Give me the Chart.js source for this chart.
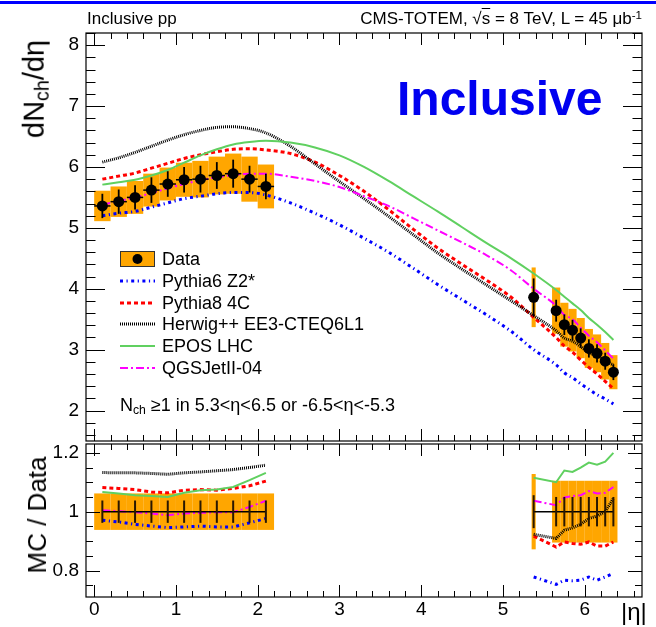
<!DOCTYPE html>
<html><head><meta charset="utf-8">
<script src="https://cdn.jsdelivr.net/npm/chart.js@4/dist/chart.umd.min.js"></script>
<style>
html,body{margin:0;padding:0;background:#fff;}
#wrap{position:relative;width:656px;height:627px;overflow:hidden;font-family:"Liberation Sans",Arial,Helvetica,sans-serif;color:#000;}
canvas{position:absolute;left:0;top:0;}
.t{position:absolute;white-space:nowrap;line-height:1;}
.rot{position:absolute;white-space:nowrap;line-height:1;transform:translate(-50%,-50%) rotate(-90deg);}
.leg{position:absolute;left:120px;white-space:nowrap;line-height:1;font-size:18px;display:flex;align-items:center;}
sub{font-size:0.68em;vertical-align:-0.25em;}
sup{font-size:0.68em;vertical-align:0.45em;}
</style></head><body>
<div id="wrap">
<div style="position:absolute;left:0;top:1px;width:656px;height:3px;background:#0000ff"></div>
<canvas id="cTop" width="656" height="627"></canvas>
<canvas id="cBot" width="656" height="627"></canvas>
<div class="t" style="left:87px;top:10px;font-size:17px">Inclusive pp</div>
<div class="t" style="right:14px;top:10px;font-size:17px">CMS-TOTEM, √<span style="text-decoration:overline">s</span> = 8 TeV, L = 45 μb<sup>-1</sup></div>
<div class="t" style="left:397px;top:75px;font-size:48px;font-weight:bold;color:#0000f0">Inclusive</div>
<div class="rot" style="left:36px;top:89px;font-size:29px">dN<sub>ch</sub>/dη</div>
<div class="rot" style="left:37px;top:515px;font-size:26px">MC / Data</div>
<div class="t" style="left:621px;top:600px;font-size:24px">|η|</div>
<div id="legend"></div>
<div class="t" style="left:120px;top:396px;font-size:18px">N<sub>ch</sub> ≥1 in 5.3&lt;η&lt;6.5 or -6.5&lt;η&lt;-5.3</div>
</div>
<script>
// ---------------- data ----------------
const etaLeft  = [0.1,0.3,0.5,0.7,0.9,1.1,1.3,1.5,1.7,1.9,2.1];
const binLeft  = [0.2,0.2,0.2,0.2,0.2,0.2,0.2,0.2,0.2,0.2,0.2];
const dataLeft = [5.36,5.43,5.50,5.62,5.72,5.79,5.80,5.86,5.89,5.80,5.68];
const sysLeft  = [0.25,0.25,0.27,0.27,0.27,0.28,0.30,0.31,0.33,0.37,0.36];
const errLeft  = [0.20,0.20,0.20,0.21,0.21,0.21,0.22,0.22,0.23,0.22,0.21];

const etaRight  = [5.375,5.65,5.75,5.85,5.95,6.05,6.15,6.25,6.35];
const binRight  = [0.05,0.1,0.1,0.1,0.1,0.1,0.1,0.1,0.1];
const dataRight = [3.86,3.64,3.41,3.32,3.19,3.02,2.94,2.81,2.63];
const sysRight  = [0.49,0.38,0.36,0.35,0.33,0.32,0.31,0.30,0.28];
const errRight  = [0.31,0.18,0.17,0.17,0.16,0.15,0.15,0.14,0.13];

// ratio panel: relative uncertainties of the data
const ratioSysLeft  = [0.062,0.062,0.062,0.062,0.062,0.062,0.062,0.062,0.062,0.062,0.062];
const ratioErrLeft  = [0.038,0.038,0.038,0.038,0.038,0.038,0.038,0.038,0.038,0.038,0.038];
const ratioSysRight = [0.128,0.105,0.105,0.105,0.105,0.105,0.105,0.105,0.105];
const ratioErrRight = [0.056,0.05,0.05,0.05,0.05,0.05,0.05,0.05,0.05];

// MC predictions (upper panel)
const etaMC = [0.1,0.3,0.5,0.7,0.9,1.1,1.3,1.5,1.7,1.9,2.1,2.4,2.7,3.0,3.3,3.6,3.9,4.2,4.5,4.8,5.1,5.375,5.65,5.75,5.85,5.95,6.05,6.15,6.25,6.35];
const pythia6 = [5.20,5.24,5.27,5.34,5.41,5.48,5.52,5.56,5.58,5.58,5.54,5.41,5.24,5.05,4.83,4.60,4.34,4.07,3.82,3.57,3.30,3.00,2.75,2.62,2.54,2.44,2.35,2.26,2.19,2.11];
const pythia8 = [5.80,5.85,5.90,5.98,6.06,6.14,6.20,6.25,6.29,6.30,6.28,6.22,6.08,5.86,5.60,5.30,4.98,4.67,4.40,4.14,3.86,3.53,3.20,3.06,2.96,2.83,2.71,2.60,2.48,2.36];
const herwig  = [6.08,6.15,6.24,6.34,6.44,6.53,6.60,6.65,6.66,6.63,6.56,6.34,6.05,5.76,5.48,5.19,4.89,4.59,4.32,4.06,3.80,3.56,3.31,3.19,3.14,3.05,2.95,2.90,2.81,2.75];
const epos    = [5.71,5.75,5.79,5.86,5.95,6.07,6.19,6.29,6.37,6.41,6.43,6.40,6.32,6.19,6.00,5.77,5.52,5.27,5.01,4.75,4.50,4.25,3.98,3.87,3.76,3.65,3.52,3.41,3.29,3.16];
const qgsjet  = [5.38,5.44,5.50,5.57,5.65,5.72,5.78,5.83,5.87,5.89,5.89,5.84,5.77,5.67,5.52,5.36,5.16,4.96,4.76,4.55,4.30,4.00,3.72,3.57,3.50,3.36,3.23,3.12,2.99,2.85];

// MC / Data ratios (lower panel)
const rPythia6Left = [0.971,0.965,0.957,0.951,0.946,0.948,0.951,0.948,0.948,0.962,0.977];
const rPythia8Left = [1.082,1.079,1.075,1.067,1.064,1.073,1.075,1.073,1.079,1.088,1.104];
const rHerwigLeft  = [1.133,1.132,1.132,1.130,1.127,1.132,1.135,1.139,1.143,1.150,1.158];
const rEposLeft    = [1.067,1.062,1.056,1.053,1.050,1.064,1.073,1.075,1.084,1.107,1.132];
const rQgsjetLeft  = [1.005,1.002,0.998,0.994,0.988,0.994,0.996,0.998,0.998,1.016,1.037];
const rPythia6Right = [0.778,0.753,0.767,0.765,0.767,0.778,0.767,0.778,0.790];
const rPythia8Right = [0.917,0.880,0.897,0.892,0.889,0.897,0.883,0.883,0.897];
const rHerwigRight  = [0.923,0.909,0.937,0.945,0.957,0.977,0.985,1.000,1.045];
const rEposRight    = [1.115,1.100,1.140,1.135,1.150,1.167,1.160,1.170,1.200];
const rQgsjetRight  = [1.037,1.022,1.048,1.053,1.056,1.070,1.062,1.064,1.084];

const yTopTicks = {min:1.5, max:8.2, step:1};
const yBotTicks = {min:0.71, max:1.23, step:0.2};
const xTicks = {min:-0.1, max:6.7, step:1};

// ---------------- styles ----------------
const FONT = '"Liberation Sans", Arial, Helvetica, sans-serif';
const ORANGE = 'rgb(255,166,0)';
const styles = {
  pythia6: {label:'Pythia6 Z2*', color:'#0000ff', width:3, dash:[3,3.5,1.2,3.5]},
  pythia8: {label:'Pythia8 4C', color:'#ff0000', width:3, dash:[4,3]},
  herwig:  {label:'Herwig++ EE3-CTEQ6L1', color:'#000000', width:3, dash:[1,1]},
  epos:    {label:'EPOS LHC', color:'rgb(96,208,96)', width:2, dash:[]},
  qgsjet:  {label:'QGSJetII-04', color:'#ff00ff', width:2, dash:[8,3,2,3]}
};

// ---------------- legend (HTML) ----------------
(function(){
  const lg = document.getElementById('legend');
  const entries = ['data','pythia6','pythia8','herwig','epos','qgsjet'];
  entries.forEach((e,i)=>{
    const cy = 259 + i*21.8;
    const d = document.createElement('div');
    d.className = 'leg';
    d.style.top = (cy-9)+'px';
    d.style.height = '18px';
    let svg;
    if (e==='data') {
      svg = '<svg width="35" height="16" style="margin-right:7px"><rect x="0.5" y="0.5" width="34" height="15" fill="'+ORANGE+'" stroke="#333" stroke-width="1"/><circle cx="17.5" cy="8" r="5" fill="#000"/></svg>';
      d.innerHTML = svg + '<span>Data</span>';
    } else {
      const s = styles[e];
      svg = '<svg width="35" height="16" style="margin-right:7px"><line x1="0" y1="8" x2="35" y2="8" stroke="'+s.color+'" stroke-width="'+s.width+'" stroke-dasharray="'+(s.dash.length?s.dash.join(','):'none')+'"/></svg>';
      d.innerHTML = svg + '<span>'+s.label+'</span>';
    }
    lg.appendChild(d);
  });
})();

// ---------------- helpers ----------------
function pts(xs, ys){ return xs.map((x,i)=>({x:x, y:ys[i]})); }
function gapJoin(a, b){ return a.concat([{x:3.7, y:null}], b); }
function lineDS(key, data, smooth){
  const s = styles[key];
  return {label:s.label, data:data, borderColor:s.color, borderWidth:s.width, borderDash:s.dash,
          pointRadius:0, fill:false, tension: smooth?0.4:0, cubicInterpolationMode: smooth?'monotone':'default',
          spanGaps:false, borderCapStyle:'butt'};
}

function rootPlugin(cfg){
  return {
    id:'root'+cfg.name,
    beforeDatasetsDraw(chart){
      const {ctx, chartArea:a, scales:{x,y}} = chart;
      ctx.save();
      ctx.beginPath(); ctx.rect(a.left,a.top,a.right-a.left,a.bottom-a.top); ctx.clip();
      ctx.fillStyle = ORANGE;
      cfg.groups.forEach(g=>{
        g.eta.forEach((e,i)=>{
          const x0 = x.getPixelForValue(e-g.bin[i]/2), x1 = x.getPixelForValue(e+g.bin[i]/2);
          const y0 = y.getPixelForValue(g.val[i]+g.sys[i]), y1 = y.getPixelForValue(g.val[i]-g.sys[i]);
          ctx.fillRect(x0, y0, x1-x0, y1-y0);
        });
      });
      ctx.restore();
    },
    afterDatasetsDraw(chart){
      const {ctx, chartArea:a, scales:{x,y}} = chart;
      ctx.save();
      ctx.strokeStyle = cfg.barColor;
      cfg.groups.forEach(g=>{
        g.eta.forEach((e,i)=>{
          const px = x.getPixelForValue(e);
          ctx.lineWidth = cfg.barWidth;
          ctx.beginPath();
          ctx.moveTo(px, y.getPixelForValue(g.val[i]+g.err[i]));
          ctx.lineTo(px, y.getPixelForValue(g.val[i]-g.err[i]));
          ctx.stroke();
          if (cfg.xbars){
            const py = y.getPixelForValue(g.val[i]);
            ctx.lineWidth = 1.5;
            ctx.beginPath();
            ctx.moveTo(x.getPixelForValue(e-g.bin[i]/2), py);
            ctx.lineTo(x.getPixelForValue(e+g.bin[i]/2), py);
            ctx.stroke();
          }
        });
      });
      ctx.strokeStyle = '#000'; ctx.lineWidth = 1.2;
      ctx.strokeRect(a.left, a.top, a.right-a.left, a.bottom-a.top);
      ctx.lineWidth = 1;
      const tick = (scale, min, max, major, minor, lmaj, lmin, horiz) => {
        const n0 = Math.ceil(min/minor - 1e-6), n1 = Math.floor(max/minor + 1e-6);
        for (let k=n0; k<=n1; k++){
          const v = k*minor;
          const isMaj = Math.abs(v/major - Math.round(v/major)) < 1e-6;
          const L = isMaj ? lmaj : lmin;
          const p = Math.round(scale.getPixelForValue(v)) + 0.5;
          ctx.beginPath();
          if (horiz){
            ctx.moveTo(p, a.bottom); ctx.lineTo(p, a.bottom-L);
            ctx.moveTo(p, a.top); ctx.lineTo(p, a.top+L);
          } else {
            ctx.moveTo(a.left, p); ctx.lineTo(a.left+L, p);
            ctx.moveTo(a.right, p); ctx.lineTo(a.right-L, p);
          }
          ctx.stroke();
        }
      };
      tick(x, xTicks.min, xTicks.max, 1, 0.2, 12, 6, true);
      tick(y, cfg.ymin, cfg.ymax, cfg.ymajor, cfg.yminor, cfg.ylmaj, cfg.ylmin, false);
      ctx.restore();
    }
  };
}

const tickFont = {family:FONT, size:19};
const commonX = {type:'linear', min:xTicks.min, max:xTicks.max};

// ---------------- upper panel ----------------
new Chart(document.getElementById('cTop'), {
  type:'line',
  data:{datasets:[
    {label:'Data', data: pts(etaLeft,dataLeft).concat(pts(etaRight,dataRight)), showLine:false,
     pointRadius:5.5, pointBackgroundColor:'#000', pointBorderWidth:0, borderColor:'#000'},
    lineDS('qgsjet', pts(etaMC,qgsjet), true),
    lineDS('epos', pts(etaMC,epos), true),
    lineDS('herwig', pts(etaMC,herwig), true),
    lineDS('pythia8', pts(etaMC,pythia8), true),
    lineDS('pythia6', pts(etaMC,pythia6), true)
  ]},
  options:{
    responsive:false, animation:false, devicePixelRatio:1,
    layout:{padding:{top:33,right:14,bottom:186,left:0}},
    plugins:{legend:{display:false}, tooltip:{enabled:false}},
    scales:{
      x:Object.assign({display:false}, commonX),
      y:{type:'linear', min:yTopTicks.min, max:yTopTicks.max,
         afterFit(s){ s.width = 86; },
         grid:{display:false, drawTicks:false, tickLength:0}, border:{display:false},
         ticks:{stepSize:yTopTicks.step, includeBounds:false, padding:7, color:'#000', font:tickFont}}
    }
  },
  plugins:[rootPlugin({name:'top', ymin:yTopTicks.min, ymax:yTopTicks.max, ymajor:1, yminor:0.2, ylmaj:19, ylmin:9.5,
    barColor:'#000', barWidth:1.8, xbars:true,
    groups:[{eta:etaLeft, bin:binLeft, val:dataLeft, sys:sysLeft, err:errLeft},
            {eta:etaRight, bin:binRight, val:dataRight, sys:sysRight, err:errRight}]})]
});

// ---------------- lower panel ----------------
const onesLeft = dataLeft.map(v=>v/v), onesRight = dataRight.map(v=>v/v);
new Chart(document.getElementById('cBot'), {
  type:'line',
  data:{datasets:[
    {label:'Data', data: gapJoin(pts(etaLeft,onesLeft), pts(etaRight,onesRight)), borderColor:'#000', borderWidth:1.5,
     pointRadius:0, fill:false, spanGaps:false},
    lineDS('qgsjet', gapJoin(pts(etaLeft,rQgsjetLeft), pts(etaRight,rQgsjetRight)), false),
    lineDS('epos', gapJoin(pts(etaLeft,rEposLeft), pts(etaRight,rEposRight)), false),
    lineDS('herwig', gapJoin(pts(etaLeft,rHerwigLeft), pts(etaRight,rHerwigRight)), false),
    lineDS('pythia8', gapJoin(pts(etaLeft,rPythia8Left), pts(etaRight,rPythia8Right)), false),
    lineDS('pythia6', gapJoin(pts(etaLeft,rPythia6Left), pts(etaRight,rPythia6Right)), false)
  ]},
  options:{
    responsive:false, animation:false, devicePixelRatio:1,
    layout:{padding:{top:444,right:14,bottom:0,left:0}},
    plugins:{legend:{display:false}, tooltip:{enabled:false}},
    scales:{
      x:Object.assign({afterFit(s){ s.height = 30; },
         grid:{display:false, drawTicks:false, tickLength:0}, border:{display:false},
         ticks:{stepSize:xTicks.step, includeBounds:false, padding:1, color:'#000', font:tickFont, maxRotation:0}}, commonX),
      y:{type:'linear', min:yBotTicks.min, max:yBotTicks.max,
         afterFit(s){ s.width = 86; },
         grid:{display:false, drawTicks:false, tickLength:0}, border:{display:false},
         ticks:{stepSize:yBotTicks.step, includeBounds:false, padding:7, color:'#000', font:tickFont,
                callback:v=>String(Math.round(v*10)/10)}}
    }
  },
  plugins:[rootPlugin({name:'bot', ymin:yBotTicks.min, ymax:yBotTicks.max, ymajor:0.2, yminor:0.05, ylmaj:14, ylmin:7,
    barColor:'#2a1800', barWidth:2, xbars:false,
    groups:[{eta:etaLeft, bin:binLeft, val:onesLeft, sys:ratioSysLeft, err:ratioErrLeft},
            {eta:etaRight, bin:binRight, val:onesRight, sys:ratioSysRight, err:ratioErrRight}]})]
});
</script>
</body></html>
